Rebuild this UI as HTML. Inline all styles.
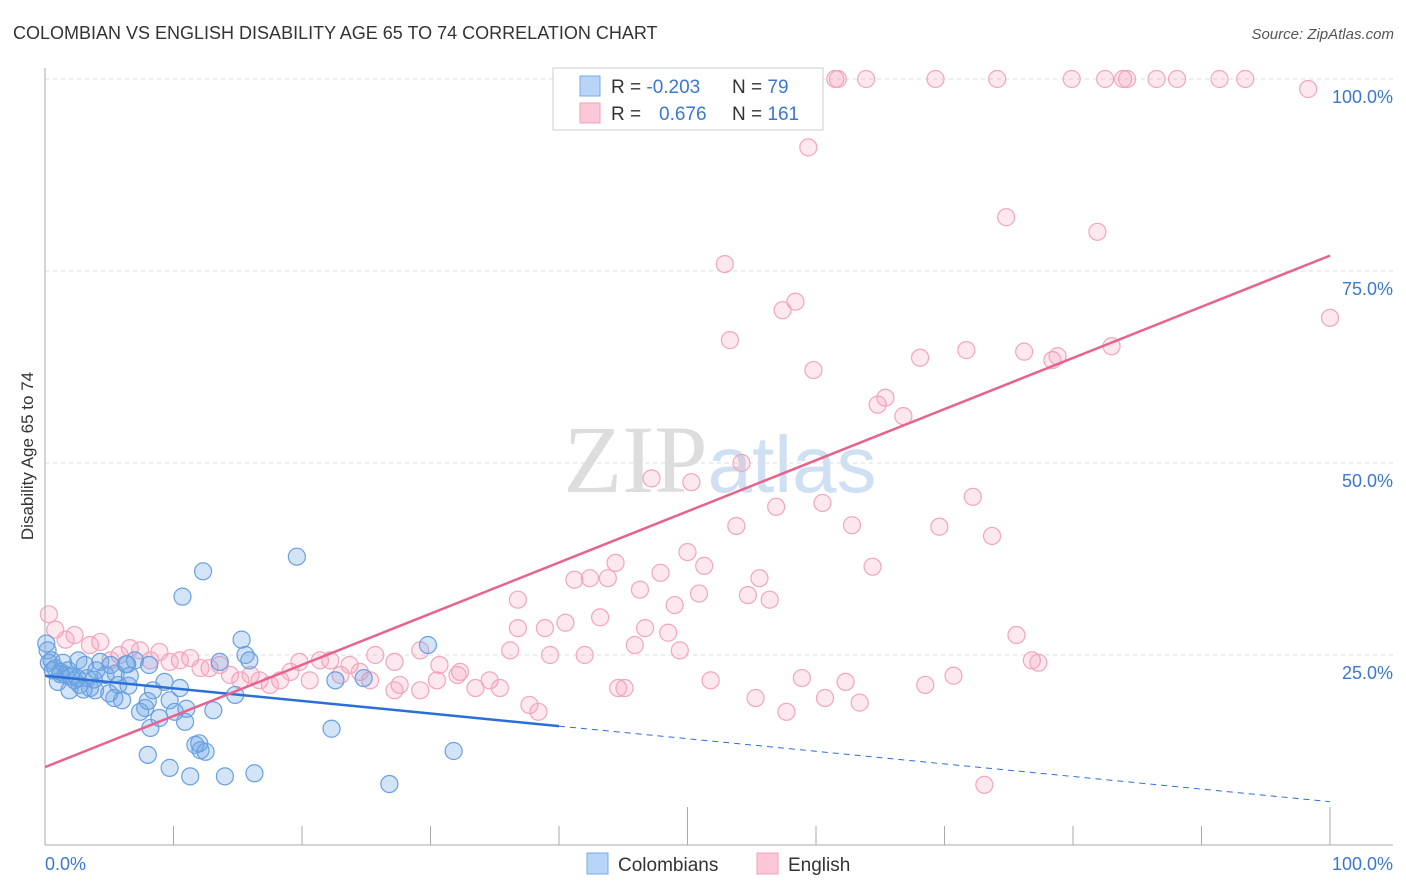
<!DOCTYPE html>
<html><head><meta charset="utf-8"><style>
body{margin:0;background:#fff;font-family:"Liberation Sans",sans-serif;}
svg{display:block}
</style></head><body>
<svg id="chart" width="1406" height="892" viewBox="0 0 1406 892">
<text x="13" y="39" font-size="18" fill="#333">COLOMBIAN VS ENGLISH DISABILITY AGE 65 TO 74 CORRELATION CHART</text>
<text x="1394" y="39" font-size="15" fill="#555" font-style="italic" text-anchor="end">Source: ZipAtlas.com</text>
<text x="720" y="492" font-size="96" fill="#ddd" text-anchor="middle" font-family="Liberation Serif,serif">ZIP<tspan fill="#cfe0f3" font-family="Liberation Sans,sans-serif" font-size="80">atlas</tspan></text>
<text transform="translate(33,456) rotate(-90)" font-size="17" fill="#333" text-anchor="middle">Disability Age 65 to 74</text>
<g id="grid"></g><g id="axes"></g><g id="marks"></g><g id="trends"></g>
<g>
<rect x="553" y="68" width="270" height="62" fill="#fff" stroke="#ccc"/>
<rect x="580" y="76" width="20" height="20" fill="#b8d4f6" stroke="#7aaae6"/>
<rect x="580" y="103" width="20" height="20" fill="#fbc8d8" stroke="#f0a0b8"/>
<text x="611" y="93" font-size="19" fill="#333">R = <tspan fill="#3a78d0">-0.203</tspan></text>
<text x="732" y="93" font-size="19" fill="#333">N = <tspan fill="#3a78d0"> 79</tspan></text>
<text x="611" y="120" font-size="19" fill="#333">R = <tspan fill="#3a78d0" x="659">0.676</tspan></text>
<text x="732" y="120" font-size="19" fill="#333">N = <tspan fill="#3a78d0">161</tspan></text>
</g>
<g>
<rect x="587" y="853" width="21" height="21" fill="#b8d4f6" stroke="#7aaae6"/>
<text x="618" y="871" font-size="19" fill="#333">Colombians</text>
<rect x="757" y="853" width="21" height="21" fill="#fbc8d8" stroke="#f0a0b8"/>
<text x="788" y="871" font-size="19" fill="#333">English</text>
</g>
</svg>
<script>
const xTickLabels=["0.0%","100.0%"];
const yTicks=[25,50,75,100];
const yTickLabels=["25.0%","50.0%","75.0%","100.0%"];
const colX=[0.2,0.5,0.8,1.2,1.6,1.9,2.3,2.7,3.1,3.5,3.9,4.3,4.7,5.1,5.4,5.7,6.0,6.3,6.6,7.0,7.4,7.8,8.2,8.4,8.9,9.3,9.7,10.1,10.5,10.9,11.7,12.1,12.5,13.1,13.6,14.0,14.8,15.3,15.6,15.9,8.0,9.7,11.3,16.3,10.7,12.3,19.6,22.3,22.6,24.8,26.8,29.8,31.8,1.0,0.3,1.8,2.5,3.0,4.0,5.0,6.5,8.0,11.0,12.0,2.0,3.3,0.6,1.4,2.6,8.1,6.4,0.1,1.2,3.8,5.5];
const colY=[25.6,24.3,23.3,22.8,22.4,20.4,21.7,21.1,23.7,20.7,20.4,24.1,22.4,23.7,19.4,21.1,19.1,23.8,22.3,24.3,17.6,18.1,15.5,20.4,16.8,21.5,19.1,17.6,20.7,16.3,13.3,12.6,12.4,17.8,24.1,9.2,19.8,27.0,25.0,24.3,12.0,10.3,9.2,9.6,32.6,35.9,37.8,15.4,21.7,22.0,8.2,26.3,12.5,21.5,24,23,22,20.5,23,20,21,19,18,13.5,22.2,22.0,23,24,24.3,23.7,23.8,26.5,22.5,21.8,22.6];
const engX=[0.3,0.8,2.3,4.3,6.6,8.9,11.3,13.6,16,18.3,20.6,23,25.3,27.6,30.5,32.3,34.6,36.2,36.8,36.8,37.7,38.4,38.9,39.3,40.5,41.2,42,42.4,43.2,43.8,44.4,44.6,45.1,45.9,46.3,46.7,47.2,47.9,48.5,49,49.4,50,50.3,50.9,51.3,51.8,52.4,52.9,53.3,53.8,54.2,54.7,55.3,55.6,56.4,56.9,57.4,57.7,58.4,58.9,59.4,59.8,60.5,60.7,61.5,61.7,62.3,62.8,63.4,63.9,64.4,64.8,65.4,66.8,68.1,68.5,69.3,69.6,70.7,71.7,72.2,73.1,73.7,74.1,74.8,75.6,76.2,76.8,77.3,78.4,78.8,79.9,81.9,82.5,83,83.9,84.2,86.5,88.1,91.4,93.4,98.3,100,22.2,23.7,25.7,27.2,29.2,30.7,32.1,33.5,35.4,29.2,27.2,24.5,21.4,19.8,17.5,15.2,12.8,10.5,8.2,5.8,3.5,1.6,5.1,7.4,9.7,12.1,14.4,16.7,19.1];
const engY=[30.3,28.3,27.6,26.7,25.9,25.4,24.6,23.7,22.4,21.7,21.7,22.4,21.7,21.1,21.7,22.8,21.7,25.6,32.2,28.5,18.5,17.6,28.5,25,29.2,34.8,25,35,29.9,35,37,20.7,20.7,26.3,33.5,28.5,48,35.7,27.9,31.5,25.6,38.4,47.5,33,36.6,21.7,100,75.9,66,41.8,50,32.8,19.4,35,32.2,44.3,69.9,17.6,71,22,91.1,62.1,44.8,19.4,100,100,21.5,41.9,18.8,100,36.5,57.6,58.5,56.1,63.7,21.1,100,41.7,22.3,64.7,45.6,8.1,40.5,100,82,27.6,64.5,24.3,24,63.4,63.9,100,80.1,100,65.2,100,100,100,100,100,100,98.7,68.9,24.3,23.7,25,24.1,25.6,23.7,22.4,20.7,20.7,20.4,20.4,22.8,24.3,24.1,21.1,21.7,23.3,24.3,24.3,25,26.3,27,24.3,25.6,24.1,23.3,22.4,21.7,22.8];
const colTrend=[22.3,5.9], engTrend=[10.4,77.0];
const NS="http://www.w3.org/2000/svg";
const X=v=>45+v*12.85, Y=v=>847-v*7.68;
function mk(tag,attrs,parent){const e=document.createElementNS(NS,tag);for(const k in attrs)e.setAttribute(k,attrs[k]);document.getElementById(parent).appendChild(e);return e;}
yTicks.forEach((t,i)=>{
 const g=mk('line',{x1:45,x2:1393,y1:Y(t),y2:Y(t),stroke:'#ddd','stroke-dasharray':'4,4'},'grid');
 
 
 const l=mk('text',{x:1393,y:Y(t)+24,'font-size':18,fill:'#3a78d0','text-anchor':'end'},'grid');
 l.textContent=yTickLabels[i];
 
 
});
let a=mk('line',{x1:45,x2:45,y1:68,y2:845,stroke:'#aaa'},'axes');


a=mk('line',{x1:45,x2:1393,y1:845,y2:845,stroke:'#aaa'},'axes');


for(let i=1;i<=10;i++){
 const t=mk('line',{x1:X(i*10),x2:X(i*10),y1:(i==5||i==10)?807:826,y2:845,stroke:'#aaa'},'axes');
 
 
}
[[0,'start'],[100,'end']].forEach((p,i)=>{
 const t=mk('text',{x:i?1393:45,y:870,'font-size':18,fill:'#3a78d0','text-anchor':p[1]},'axes');
 t.textContent=xTickLabels[i];
 
 
});
engX.forEach((x,i)=>{
 const c=mk('circle',{cx:X(x),cy:Y(engY[i]),r:8.5,fill:'rgba(245,150,180,0.22)',stroke:'#f2a5bd','stroke-width':1.2},'marks');
 
 
});
colX.forEach((x,i)=>{
 const c=mk('circle',{cx:X(x),cy:Y(colY[i]),r:8.5,fill:'rgba(110,165,230,0.3)',stroke:'#6a9fe0','stroke-width':1.2},'marks');
 
 
});
const cy=x=>colTrend[0]+(colTrend[1]-colTrend[0])*x/100;
let t=mk('line',{x1:X(0),y1:Y(cy(0)),x2:X(40),y2:Y(cy(40)),stroke:'#2a6fd6','stroke-width':2.5},'trends');


t=mk('line',{x1:X(40),y1:Y(cy(40)),x2:X(100),y2:Y(cy(100)),stroke:'#2a6fd6','stroke-width':1,'stroke-dasharray':'6,5'},'trends');


t=mk('line',{x1:X(0),y1:Y(engTrend[0]),x2:X(100),y2:Y(engTrend[1]),stroke:'#e8628e','stroke-width':2.5},'trends');


</script>
</body></html>
